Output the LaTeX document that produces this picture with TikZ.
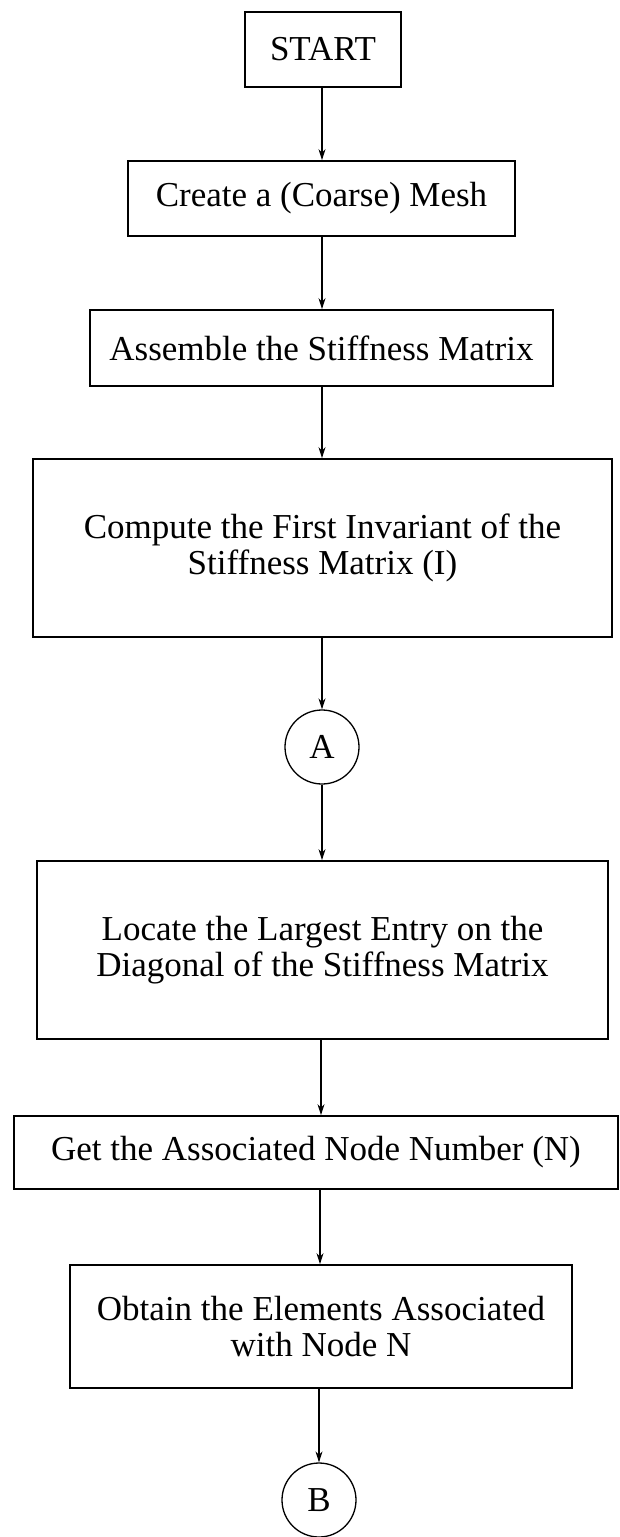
\documentclass[tikz,border=0pt]{standalone}
\usepackage{fontspec}
\setmainfont{Liberation Serif}
\usetikzlibrary{arrows.meta}
\begin{document}
\begin{tikzpicture}[x=1pt,y=-1pt,
  box/.style={draw,line width=1.8pt,rectangle,inner sep=0pt,align=center,
    font=\fontsize{35}{36}\selectfont},
  conn/.style={draw,circle,line width=1.3pt,inner sep=0pt,minimum size=74pt,
    font=\fontsize{35}{36}\selectfont},
  flow/.style={line width=1.3pt,-{Stealth[length=11pt,width=7pt]}}]
\useasboundingbox (0,0) rectangle (619,1537);
\node[box,minimum width=156pt,minimum height=75pt] (start) at (323,49.5) {START};
\node[box,minimum width=387pt,minimum height=75pt] (mesh) at (321.5,198.5) {Create a (Coarse) Mesh};
\node[box,minimum width=463pt,minimum height=76pt] (assemble) at (321.5,348) {Assemble the Stiffness Matrix};
\node[box,minimum width=579pt,minimum height=178pt] (compute) at (322.5,548) {Compute the First Invariant of the\\Stiffness Matrix (I)};
\node[conn] (A) at (322,747) {A};
\node[box,minimum width=571pt,minimum height=178pt] (locate) at (322.5,950) {Locate the Largest Entry on the\\Diagonal of the Stiffness Matrix};
\node[box,minimum width=604pt,minimum height=73pt] (get) at (316,1152.5) {Get the Associated Node Number (N)};
\node[box,minimum width=502pt,minimum height=123pt] (obtain) at (321,1326.5) {Obtain the Elements Associated\\with Node N};
\node[conn] (B) at (319,1500) {B};
\draw[flow] (start.south -| 322,0) -- (mesh.north -| 322,0);
\draw[flow] (mesh.south -| 322,0) -- (assemble.north -| 322,0);
\draw[flow] (assemble.south -| 322,0) -- (compute.north -| 322,0);
\draw[flow] (compute.south -| A.south) -- (A.north);
\draw[flow] (A.south) -- (locate.north -| A.south);
\draw[flow] (locate.south -| 321,0) -- (get.north -| 321,0);
\draw[flow] (get.south -| 320,0) -- (obtain.north -| 320,0);
\draw[flow] (obtain.south -| B.north) -- (B.north);
\end{tikzpicture}
\end{document}
